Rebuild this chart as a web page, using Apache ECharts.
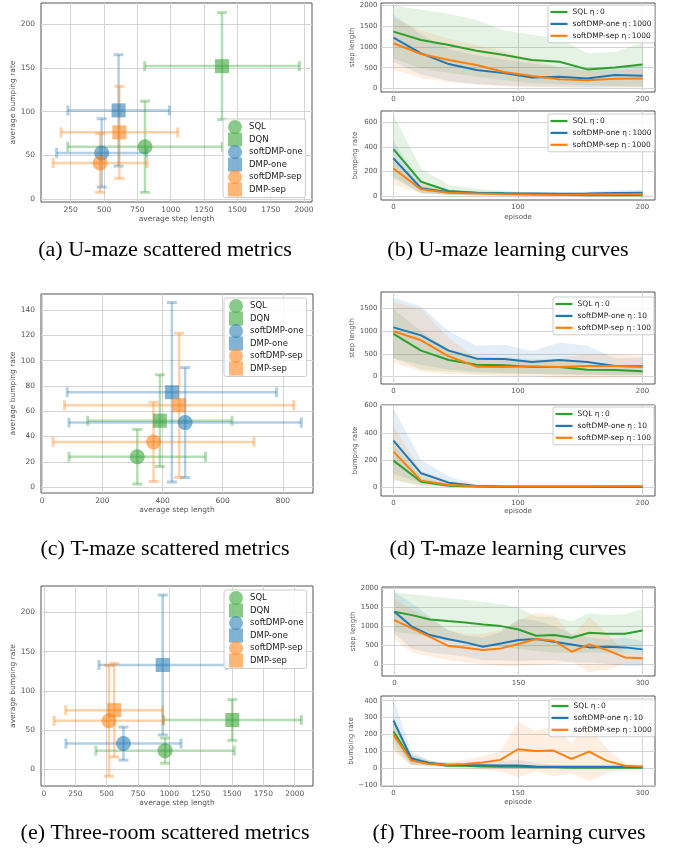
<!DOCTYPE html>
<html><head><meta charset="utf-8">
<script src="https://cdn.jsdelivr.net/npm/echarts@6/dist/echarts.min.js"></script>
<style>html,body{margin:0;padding:0;background:#fff}#c{width:673px;height:852px}</style>
</head><body><div id="c"></div><script>
// ---------------- DATA ----------------
const methods = ['SQL', 'DQN', 'softDMP-one', 'DMP-one', 'softDMP-sep', 'DMP-sep'];

// (a) U-maze scattered metrics
const uStep = [807, 1385, 482, 609, 470, 615];
const uStepErr = [580, 580, 338, 381, 352, 438];
const uBump = [60, 152, 53, 101.5, 41.5, 76.5];
const uBumpErr = [52, 61, 39, 63.5, 33.5, 52.5];
// (c) T-maze scattered metrics
const tStep = [316, 391, 475, 431, 370, 455];
const tStepErr = [227, 240, 386, 348, 334, 381];
const tBump = [24, 52.5, 51, 75, 35.7, 64.7];
const tBumpErr = [21.6, 36.3, 43.5, 71, 31.3, 57];
// (e) Three-room scattered metrics
const rStep = [966, 1502, 634, 947, 518, 560];
const rStepErr = [552, 551, 459, 509, 438, 387];
const rBump = [24, 63, 33, 133, 62, 75.5];
const rBumpErr = [16, 26, 21, 89, 70.5, 59.5];

// learning curve episodes
const ep200 = [0, 22.2, 44.4, 66.7, 88.9, 111.1, 133.3, 155.6, 177.8, 200];
const ep300 = [0, 21.4, 42.9, 64.3, 85.7, 107.1, 128.6, 150, 171.4, 192.9, 214.3, 235.7, 257.1, 278.6, 300];

const namesB = ['SQL η\u2009:\u20090', 'softDMP-one η\u2009:\u20091000', 'softDMP-sep η\u2009:\u20091000'];
const namesD = ['SQL η\u2009:\u20090', 'softDMP-one η\u2009:\u200910', 'softDMP-sep η\u2009:\u2009100'];
const namesF = ['SQL η\u2009:\u20090', 'softDMP-one η\u2009:\u200910', 'softDMP-sep η\u2009:\u20091000'];

// (b) U-maze step length
const sqlStepU = [1370, 1170, 1048, 910, 806, 685, 645, 460, 508, 580];
const oneStepU = [1225, 847, 588, 443, 370, 266, 281, 242, 322, 305];
const sepStepU = [1090, 830, 685, 564, 395, 298, 225, 201, 232, 242];
const sqlStepULo = [720, 480, 380, 280, 200, 130, 100, 80, 60, 40];
const sqlStepUHi = [2000, 1900, 1800, 1650, 1400, 1300, 1200, 850, 880, 1100];
const oneStepULo = [640, 330, 180, 100, 70, 50, 40, 30, 40, 40];
const oneStepUHi = [1780, 1300, 950, 800, 700, 600, 520, 480, 500, 550];
const sepStepULo = [450, 250, 150, 100, 50, 30, 20, 10, 20, 20];
const sepStepUHi = [1700, 1400, 1200, 1050, 900, 700, 500, 420, 450, 460];
// (b) U-maze bumping rate
const sqlBumpU = [383, 116, 41, 27, 20, 15, 10, 6, 5, 5];
const oneBumpU = [307, 63, 30, 25, 22, 20, 18, 20, 25, 27];
const sepBumpU = [225, 54, 27, 20, 15, 12, 10, 12, 15, 15];
const sqlBumpULo = [140, 20, 5, 3, 2, 1, 0, 0, 0, 0];
const sqlBumpUHi = [660, 225, 90, 60, 40, 30, 25, 20, 20, 20];
const oneBumpULo = [160, 25, 10, 5, 5, 5, 5, 5, 5, 5];
const oneBumpUHi = [450, 100, 50, 40, 35, 30, 30, 35, 45, 50];
const sepBumpULo = [90, 25, 10, 5, 3, 2, 2, 2, 3, 3];
const sepBumpUHi = [320, 85, 45, 35, 30, 25, 22, 25, 30, 30];

// (d) T-maze step length
const sqlStepT = [940, 570, 363, 259, 244, 208, 208, 148, 141, 111];
const oneStepT = [1086, 909, 570, 392, 385, 318, 363, 318, 230, 222];
const sepStepT = [998, 799, 444, 215, 208, 222, 208, 230, 230, 208];
const sqlStepTLo = [400, 150, 100, 60, 50, 50, 30, 30, 20, 20];
const sqlStepTHi = [1500, 1000, 600, 450, 420, 380, 380, 270, 260, 210];
const oneStepTLo = [400, 250, 150, 100, 80, 60, 50, 40, 30, 40];
const oneStepTHi = [1750, 1550, 1000, 680, 700, 560, 750, 680, 400, 420];
const sepStepTLo = [300, 100, 50, 30, 10, 0, -50, -50, -30, -20];
const sepStepTHi = [1650, 1500, 850, 400, 400, 350, 400, 500, 500, 450];
// (d) T-maze bumping rate
const sqlBumpT = [196, 41, 12, 5, 3, 2, 2, 2, 2, 2];
const oneBumpT = [343, 103, 34, 10, 6, 5, 5, 5, 5, 5];
const sepBumpT = [262, 49, 17, 8, 6, 6, 6, 6, 7, 7];
const sqlBumpTLo = [50, 10, 3, 1, 0, 0, 0, 0, 0, 0];
const sqlBumpTHi = [320, 75, 25, 10, 6, 5, 5, 5, 5, 5];
const oneBumpTLo = [100, 30, 10, 3, 2, 2, 2, 2, 2, 2];
const oneBumpTHi = [580, 200, 80, 20, 12, 10, 10, 10, 10, 10];
const sepBumpTLo = [60, 15, 5, 3, 2, 2, 2, 2, 2, 2];
const sepBumpTHi = [450, 120, 50, 15, 12, 12, 12, 12, 12, 12];

// (f) Three-room step length
const sqlStepR = [1383, 1295, 1181, 1137, 1101, 1049, 1004, 916, 749, 767, 696, 828, 802, 802, 890];
const oneStepR = [1383, 987, 767, 661, 573, 458, 546, 634, 661, 590, 520, 441, 458, 441, 388];
const sepStepR = [1163, 943, 722, 485, 432, 370, 414, 529, 661, 617, 326, 520, 370, 176, 150];
const sqlStepRLo = [850, 800, 700, 600, 550, 500, 450, 400, 350, 300, 300, 300, 300, 300, 300];
const sqlStepRHi = [1900, 1850, 1800, 1750, 1700, 1650, 1580, 1500, 1250, 1250, 1130, 1350, 1300, 1320, 1450];
const oneStepRLo = [800, 400, 300, 250, 200, 100, 100, 80, 100, 100, 50, 50, 0, -50, -50];
const oneStepRHi = [1900, 1600, 1250, 900, 750, 700, 850, 1200, 1150, 1000, 800, 700, 650, 700, 600];
const sepStepRLo = [650, 300, 200, 100, 50, 0, -50, -50, -20, 0, 50, -220, -150, 0, 0];
const sepStepRHi = [1700, 1450, 1200, 900, 800, 800, 900, 1150, 1350, 1300, 750, 1250, 800, 300, 300];
// (f) Three-room bumping rate
const sqlBumpR = [217, 49, 30, 14, 14, 10, 8, 8, 5, 5, 3, 3, 3, 3, 3];
const oneBumpR = [282, 59, 30, 20, 18, 17, 16, 16, 10, 8, 8, 8, 8, 8, 5];
const sepBumpR = [197, 45, 25, 20, 24, 33, 49, 112, 102, 104, 55, 98, 43, 14, 10];
const sqlBumpRLo = [120, 20, 15, 5, 5, 3, 2, 2, 1, 1, 0, 0, 0, 0, 0];
const sqlBumpRHi = [300, 80, 45, 25, 22, 18, 15, 15, 10, 10, 6, 6, 6, 6, 6];
const oneBumpRLo = [160, 20, 15, 10, 5, 5, 0, -5, 0, 0, 0, 0, 0, 0, 0];
const oneBumpRHi = [410, 100, 45, 35, 30, 30, 40, 50, 30, 20, 15, 15, 15, 15, 10];
const sepBumpRLo = [100, 15, 10, 5, 0, -10, -20, -55, -20, -50, -30, -80, -30, 0, 0];
const sepBumpRHi = [300, 80, 40, 35, 50, 70, 100, 275, 220, 250, 150, 250, 120, 30, 20];

// tick labels
const ticksAx = [250, 500, 750, 1000, 1250, 1500, 1750, 2000];
const ticksAy = [0, 50, 100, 150, 200];
const ticksCx = [0, 200, 400, 600, 800];
const ticksCy = [0, 20, 40, 60, 80, 100, 120, 140];
const ticksEx = [0, 250, 500, 750, 1000, 1250, 1500, 1750, 2000];
const ticksEy = [0, 50, 100, 150, 200];
const ticksEp200 = [0, 100, 200];
const ticksEp300 = [0, 150, 300];
const ticksStep2000 = [0, 500, 1000, 1500, 2000];
const ticksStep1500 = [0, 500, 1000, 1500];
const ticksBump600 = [0, 200, 400, 600];
const ticksBumpR = [-100, 0, 100, 200, 300, 400];

const captions = [
  '(a) U-maze scattered metrics', '(b) U-maze learning curves',
  '(c) T-maze scattered metrics', '(d) T-maze learning curves',
  '(e) Three-room scattered metrics', '(f) Three-room learning curves'
];

// ---------------- STYLE / BUILD ----------------
const FONT = 'DejaVu Sans';
const LBL = '#555';
const GRID = '#d4d4d4';
const C = { g: '#2ca02c', b: '#1f77b4', o: '#ff7f0e' };
function rgba(hex, a) {
  const n = parseInt(hex.slice(1), 16);
  return 'rgba(' + ((n >> 16) & 255) + ',' + ((n >> 8) & 255) + ',' + (n & 255) + ',' + a + ')';
}
const methodColors = [C.g, C.g, C.b, C.b, C.o, C.o];
const methodSymbols = ['circle', 'rect', 'circle', 'rect', 'circle', 'rect'];
const fmt = v => (v < 0 ? '\u2212' + Math.abs(v) : String(v));

const grids = [
  { left: 41, top: 3, width: 271, height: 199 },
  { left: 381, top: 3, width: 274, height: 89 },
  { left: 381, top: 111, width: 274, height: 89 },
  { left: 41, top: 294, width: 272, height: 199 },
  { left: 381, top: 292, width: 274, height: 92 },
  { left: 381, top: 405, width: 274, height: 91 },
  { left: 41, top: 586, width: 272, height: 200 },
  { left: 382, top: 587, width: 273, height: 89 },
  { left: 381, top: 696, width: 274, height: 90 }
].map(g => Object.assign({ show: true, borderColor: '#555', borderWidth: 1, backgroundColor: '#fff', containLabel: false }, g));

function axis(gi, min, max, ticks, o) {
  o = o || {};
  return {
    type: 'value', gridIndex: gi, min: min, max: max,
    axisLine: { show: false },
    axisTick: { show: false, customValues: ticks },
    axisLabel: { customValues: ticks, fontSize: o.fs || 7, color: LBL, fontFamily: FONT, margin: o.margin || 4, formatter: fmt },
    splitLine: { show: true, lineStyle: { color: GRID, width: 1 } },
    name: o.name || '', nameLocation: 'middle', nameGap: o.gap || 14,
    nameTextStyle: { fontSize: o.nfs || 7.5, color: LBL, fontFamily: FONT }
  };
}

const xAxes = [
  axis(0, 27, 2060, ticksAx, { fs: 7.5, margin: 4, name: 'average step length', gap: 13 }),
  axis(1, -10, 210, ticksEp200, { margin: 3.5 }),
  axis(2, -10, 210, ticksEp200, { margin: 3.5, name: 'episode', gap: 13.5, nfs: 7 }),
  axis(3, -4, 900, ticksCx, { fs: 7.5, margin: 4, name: 'average step length', gap: 11.5 }),
  axis(4, -10, 210, ticksEp200, { margin: 3.5 }),
  axis(5, -10, 210, ticksEp200, { margin: 3.5, name: 'episode', gap: 12, nfs: 7 }),
  axis(6, -24, 2146, ticksEx, { fs: 7.5, margin: 4, name: 'average step length', gap: 12.5 }),
  axis(7, -15, 315, ticksEp300, { margin: 3.5 }),
  axis(8, -15, 315, ticksEp300, { margin: 3.5, name: 'episode', gap: 13, nfs: 7 })
];
const yAxes = [
  axis(0, -3, 224, ticksAy, { fs: 7.5, margin: 6, name: 'average bumping rate', gap: 20 }),
  axis(1, -85, 2060, ticksStep2000, { margin: 3.5, name: 'step length', gap: 24, nfs: 7 }),
  axis(2, -33, 695, ticksBump600, { margin: 3.5, name: 'bumping rate', gap: 22, nfs: 7 }),
  axis(3, -4.7, 152.7, ticksCy, { fs: 7.5, margin: 6, name: 'average bumping rate', gap: 20 }),
  axis(4, -170, 1870, ticksStep1500, { margin: 3.5, name: 'step length', gap: 24, nfs: 7 }),
  axis(5, -64, 605, ticksBump600, { margin: 3.5, name: 'bumping rate', gap: 22, nfs: 7 }),
  axis(6, -21, 233.5, ticksEy, { fs: 7.5, margin: 6, name: 'average bumping rate', gap: 21 }),
  axis(7, -317, 2040, ticksStep2000, { margin: 3.5, name: 'step length', gap: 24, nfs: 7 }),
  axis(8, -106, 428, ticksBumpR, { margin: 3.5, name: 'bumping rate', gap: 25, nfs: 7 })
];

function errRender(color) {
  return function (params, api) {
    const x = api.value(0), y = api.value(1), xe = api.value(2), ye = api.value(3);
    const pL = api.coord([x - xe, y]), pR = api.coord([x + xe, y]);
    const pT = api.coord([x, y + ye]), pB = api.coord([x, y - ye]);
    const c = 5;
    const ls = { stroke: color, lineWidth: 2.5, fill: null };
    const cs = { stroke: color, lineWidth: 3, fill: null };
    return {
      type: 'group', children: [
        { type: 'line', shape: { x1: pL[0], y1: pL[1], x2: pR[0], y2: pR[1] }, style: ls },
        { type: 'line', shape: { x1: pT[0], y1: pT[1], x2: pB[0], y2: pB[1] }, style: ls },
        { type: 'line', shape: { x1: pL[0], y1: pL[1] - c, x2: pL[0], y2: pL[1] + c }, style: cs },
        { type: 'line', shape: { x1: pR[0], y1: pR[1] - c, x2: pR[0], y2: pR[1] + c }, style: cs },
        { type: 'line', shape: { x1: pT[0] - c, y1: pT[1], x2: pT[0] + c, y2: pT[1] }, style: cs },
        { type: 'line', shape: { x1: pB[0] - c, y1: pB[1], x2: pB[0] + c, y2: pB[1] }, style: cs }
      ]
    };
  };
}

function scatterPlot(ai, xs, xe, ys, ye) {
  const out = [];
  methods.forEach((m, i) => {
    out.push({
      type: 'custom', name: 'err-' + m, xAxisIndex: ai, yAxisIndex: ai, silent: true,
      data: [[xs[i], ys[i], xe[i], ye[i]]], encode: { x: 0, y: 1 },
      renderItem: errRender(rgba(methodColors[i], 0.35))
    });
    out.push({
      type: 'scatter', name: m, xAxisIndex: ai, yAxisIndex: ai, silent: true,
      symbol: methodSymbols[i], symbolSize: i % 2 ? 14 : 15,
      data: [[xs[i], ys[i]]], itemStyle: { color: rgba(methodColors[i], 0.7) }
    });
  });
  return out;
}

function bandSeries(ai, xs, lo, hi, color) {
  return {
    type: 'custom', name: 'band', xAxisIndex: ai, yAxisIndex: ai, silent: true, z: 1, clip: true,
    data: xs.map((x, i) => [x, lo[i], hi[i]]), encode: { x: 0, y: [1, 2] },
    renderItem: function (params, api) {
      if (params.dataIndex !== 0) return null;
      const pts = [];
      for (let i = 0; i < xs.length; i++) pts.push(api.coord([xs[i], hi[i]]));
      for (let i = xs.length - 1; i >= 0; i--) pts.push(api.coord([xs[i], lo[i]]));
      return { type: 'polygon', shape: { points: pts }, style: { fill: color } };
    }
  };
}

function curvePlot(ai, xs, names, means, los, his) {
  const cols = [C.g, C.b, C.o];
  const out = [];
  for (let i = 0; i < 3; i++) out.push(bandSeries(ai, xs, los[i], his[i], rgba(cols[i], 0.12)));
  for (let i = 0; i < 3; i++) out.push({
    type: 'line', name: names[i], xAxisIndex: ai, yAxisIndex: ai, silent: true, z: 3,
    data: xs.map((x, k) => [x, means[i][k]]), symbol: 'none',
    lineStyle: { width: 2, color: cols[i] }, itemStyle: { color: cols[i] }
  });
  return out;
}

const series = [].concat(
  scatterPlot(0, uStep, uStepErr, uBump, uBumpErr),
  curvePlot(1, ep200, namesB, [sqlStepU, oneStepU, sepStepU], [sqlStepULo, oneStepULo, sepStepULo], [sqlStepUHi, oneStepUHi, sepStepUHi]),
  curvePlot(2, ep200, namesB, [sqlBumpU, oneBumpU, sepBumpU], [sqlBumpULo, oneBumpULo, sepBumpULo], [sqlBumpUHi, oneBumpUHi, sepBumpUHi]),
  scatterPlot(3, tStep, tStepErr, tBump, tBumpErr),
  curvePlot(4, ep200, namesD, [sqlStepT, oneStepT, sepStepT], [sqlStepTLo, oneStepTLo, sepStepTLo], [sqlStepTHi, oneStepTHi, sepStepTHi]),
  curvePlot(5, ep200, namesD, [sqlBumpT, oneBumpT, sepBumpT], [sqlBumpTLo, oneBumpTLo, sepBumpTLo], [sqlBumpTHi, oneBumpTHi, sepBumpTHi]),
  scatterPlot(6, rStep, rStepErr, rBump, rBumpErr),
  curvePlot(7, ep300, namesF, [sqlStepR, oneStepR, sepStepR], [sqlStepRLo, oneStepRLo, sepStepRLo], [sqlStepRHi, oneStepRHi, sepStepRHi]),
  curvePlot(8, ep300, namesF, [sqlBumpR, oneBumpR, sepBumpR], [sqlBumpRLo, oneBumpRLo, sepBumpRLo], [sqlBumpRHi, oneBumpRHi, sepBumpRHi])
);

function scatterLegend(left, top) {
  return {
    left: left, top: top, orient: 'vertical', data: methods, selectedMode: false,
    itemWidth: 14, itemHeight: 14, itemGap: -1.5, padding: [1, 3, 1, 5],
    backgroundColor: 'rgba(255,255,255,0.8)', borderColor: '#ccc', borderWidth: 1, borderRadius: 2,
    textStyle: { fontSize: 8.5, color: '#222', fontFamily: FONT, padding: [0, 0, 0, 2] }
  };
}
function lineLegend(left, top, names) {
  return {
    left: left, top: top, orient: 'vertical', data: names, selectedMode: false,
    icon: 'rect', itemWidth: 17, itemHeight: 2.2, itemGap: 3.9, padding: [3, 3, 3, 2.5],
    backgroundColor: 'rgba(255,255,255,0.8)', borderColor: '#ccc', borderWidth: 1, borderRadius: 2,
    textStyle: { fontSize: 7.5, color: '#222', fontFamily: FONT }
  };
}

const capPos = [[165, 250], [508, 250], [165, 549], [508, 549], [165, 833], [509, 833]];
const graphic = captions.map((t, i) => ({
  type: 'text', x: capPos[i][0], y: capPos[i][1], silent: true,
  style: { text: t, font: '22px "Liberation Serif"', fill: '#000', align: 'center', verticalAlign: 'middle', textAlign: 'center', textVerticalAlign: 'middle' }
}));

const chart = echarts.init(document.getElementById('c'), null, { renderer: 'canvas' });
chart.setOption({
  animation: false,
  backgroundColor: '#fff',
  grid: grids,
  xAxis: xAxes,
  yAxis: yAxes,
  legend: [
    scatterLegend(223, 119), scatterLegend(224, 298), scatterLegend(224, 590),
    lineLegend(548, 5, namesB), lineLegend(548, 114, namesB),
    lineLegend(553, 297, namesD), lineLegend(553, 407, namesD),
    lineLegend(549, 699, namesF)
  ],
  graphic: graphic,
  series: series
});
</script></body></html>
